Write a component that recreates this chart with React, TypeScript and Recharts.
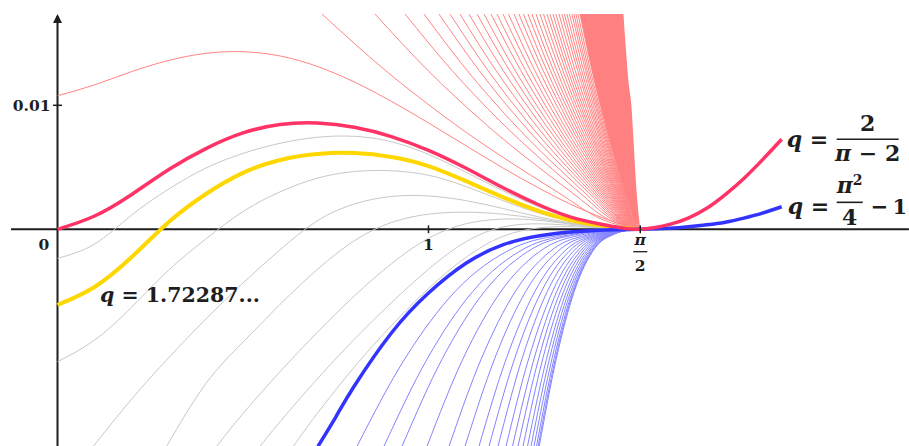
import {
  ComposedChart,
  Line,
  Area,
  XAxis,
  YAxis,
  ReferenceLine,
  ReferenceDot,
} from "recharts";

// every curve of the family meets the axis at x = pi/2
const HALF_PI = 1.5708;

// common x samples for the curves that span the whole interval
const gridX = [0, 0.1, 0.2, 0.3, 0.4, 0.5, 0.6, 0.7, 0.8, 0.9, 1.0, 1.1, 1.2, 1.3, 1.4, 1.5, HALF_PI];

// q = 2/(pi-2)
const redMainY = [0, 0.00107, 0.00281, 0.00482, 0.00651, 0.00777, 0.00845, 0.00857, 0.00823, 0.00748, 0.00636, 0.00494, 0.00337, 0.00194, 0.00084, 0.00022, 0];
// q = 1.72287...
const yellowY = [-0.0061, -0.00465, -0.00224, 0.00059, 0.00285, 0.00455, 0.00559, 0.00607, 0.00615, 0.00583, 0.0051, 0.0039, 0.0026, 0.00145, 0.00062, 0.00016, 0];
// first thin red curve (the only one fully visible)
const redFirstY = [0.01077, 0.01165, 0.01272, 0.01362, 0.01419, 0.01432, 0.01398, 0.01314, 0.01188, 0.01032, 0.00858, 0.00676, 0.00496, 0.00328, 0.00178, 0.0006, 0];
// the two grey curves that start on the y axis
const greyAY = [-0.00234, -0.00119, 0.00115, 0.00325, 0.00494, 0.00612, 0.00694, 0.00742, 0.0075, 0.00706, 0.00604, 0.00462, 0.00312, 0.00178, 0.00076, 0.00019, 0];
const greyBY = [-0.01068, -0.00893, -0.00627, -0.00328, -0.00078, 0.00143, 0.00302, 0.00412, 0.00466, 0.00472, 0.00436, 0.00346, 0.00232, 0.00128, 0.00055, 0.00014, 0];

// grey curves coming in from the bottom edge
const greyRest = [
  [[0.0965, -0.0175], [0.2, -0.01369], [0.3, -0.01034], [0.4, -0.00723], [0.5, -0.00433], [0.6, -0.00165], [0.7, 0.00068], [0.8, 0.00204], [0.9, 0.00265], [1.0, 0.00269], [1.1, 0.00232], [1.2, 0.00168], [1.3, 0.00098], [1.4, 0.00044], [1.5, 0.00011], [HALF_PI, 0]],
  [[0.294, -0.0175], [0.4, -0.01244], [0.5, -0.0091], [0.6, -0.00605], [0.7, -0.00325], [0.8, -0.00092], [0.9, 0.00055], [1.0, 0.00122], [1.1, 0.00138], [1.2, 0.00122], [1.3, 0.00084], [1.4, 0.0004], [1.5, 0.0001], [HALF_PI, 0]],
  [[0.429, -0.0175], [0.5, -0.01486], [0.6, -0.01148], [0.7, -0.00832], [0.8, -0.00538], [0.9, -0.00278], [1.0, -0.00072], [1.1, 0.00044], [1.2, 0.00082], [1.3, 0.00072], [1.4, 0.00035], [1.5, 0.00008], [HALF_PI, 0]],
  [[0.546, -0.0175], [0.6, -0.01551], [0.7, -0.01207], [0.8, -0.00887], [0.9, -0.00592], [1.0, -0.00322], [1.1, -0.00102], [1.2, 0.00018], [1.3, 0.00044], [1.4, 0.00028], [1.5, 0.00007], [HALF_PI, 0]],
  [[0.636, -0.0175], [0.7, -0.01486], [0.8, -0.01111], [0.9, -0.00777], [1.0, -0.00478], [1.1, -0.00228], [1.2, -0.00058], [1.3, 0.00012], [1.4, 0.0002], [1.5, 0.00005], [HALF_PI, 0]],
];

// q = pi^2/4 - 1
const blueMain = [[0.702, -0.0175], [0.75, -0.01514], [0.8, -0.01264], [0.9, -0.00836], [1.0, -0.00514], [1.1, -0.00276], [1.2, -0.00126], [1.3, -0.00052], [1.4, -0.00018], [1.5, -0.00004], [HALF_PI, 0]];

// the two highlighted curves continue past pi/2
const tailX = [1.65, 1.7, 1.75, 1.8, 1.85, 1.9, 1.952];
const redTailY = [0.0004, 0.0009, 0.0017, 0.0028, 0.0041, 0.0056, 0.00726];
const blueTailY = [0.00008, 0.0002, 0.00036, 0.00057, 0.0009, 0.0013, 0.00182];

// thin blue fan: x where each curve crosses these levels
const blueLevels = [-0.0175, -0.0104, -0.005, -0.0015, -0.0004, -0.0001];
const blueFanX = [
  [0.8073, 0.9371, 1.0722, 1.2295, 1.3715, 1.4639],
  [0.88, 0.9974, 1.1197, 1.262, 1.3905, 1.4741],
  [0.9286, 1.0378, 1.1514, 1.2837, 1.4032, 1.4809],
  [0.996, 1.0937, 1.1955, 1.3139, 1.4208, 1.4903],
  [1.0553, 1.1429, 1.2342, 1.3404, 1.4363, 1.4986],
  [1.0984, 1.1787, 1.2623, 1.3596, 1.4475, 1.5047],
  [1.1361, 1.21, 1.2869, 1.3765, 1.4573, 1.5099],
  [1.1631, 1.2324, 1.3046, 1.3886, 1.4644, 1.5137],
  [1.1873, 1.2525, 1.3204, 1.3994, 1.4707, 1.5171],
  [1.2089, 1.2704, 1.3345, 1.409, 1.4763, 1.5201],
  [1.2264, 1.2849, 1.3459, 1.4169, 1.4809, 1.5226],
  [1.2412, 1.2972, 1.3556, 1.4235, 1.4848, 1.5247],
  [1.2547, 1.3084, 1.3644, 1.4295, 1.4883, 1.5265],
  [1.2668, 1.3185, 1.3723, 1.4349, 1.4915, 1.5282],
  [1.2763, 1.3264, 1.3785, 1.4392, 1.4939, 1.5296],
  [1.2844, 1.3331, 1.3838, 1.4428, 1.496, 1.5307],
  [1.2911, 1.3386, 1.3882, 1.4458, 1.4978, 1.5316],
  [1.2955, 1.3422, 1.391, 1.4476, 1.4988, 1.5322],
  [1.2985, 1.3448, 1.393, 1.4491, 1.4998, 1.5327],
];

// thin red fan: x where each curve crosses these levels (first level = top edge)
const redLevels = [0.01736, 0.0128, 0.0088, 0.003, 0.0008];
const redFanX = [
  [0.7128, 0.8844, 1.056, 1.3477, 1.4678],
  [0.8558, 0.9988, 1.1418, 1.3849, 1.485],
  [0.9368, 1.0636, 1.1904, 1.406, 1.4947],
  [0.9878, 1.1044, 1.221, 1.4192, 1.5008],
  [1.0282, 1.1367, 1.2452, 1.4297, 1.5057],
  [1.0581, 1.1606, 1.2632, 1.4375, 1.5093],
  [1.0848, 1.182, 1.2792, 1.4444, 1.5125],
  [1.1091, 1.2014, 1.2938, 1.4508, 1.5154],
  [1.1307, 1.2187, 1.3067, 1.4564, 1.518],
  [1.1495, 1.2338, 1.318, 1.4613, 1.5202],
  [1.1684, 1.2489, 1.3294, 1.4662, 1.5225],
  [1.1845, 1.2618, 1.339, 1.4704, 1.5244],
  [1.2007, 1.2747, 1.3487, 1.4746, 1.5264],
  [1.2155, 1.2866, 1.3576, 1.4784, 1.5282],
  [1.2304, 1.2985, 1.3666, 1.4823, 1.53],
  [1.2438, 1.3092, 1.3746, 1.4858, 1.5316],
  [1.256, 1.319, 1.3819, 1.489, 1.533],
  [1.2681, 1.3286, 1.3892, 1.4921, 1.5345],
  [1.2789, 1.3373, 1.3957, 1.4949, 1.5358],
  [1.2897, 1.3459, 1.4021, 1.4977, 1.5371],
  [1.3004, 1.3545, 1.4086, 1.5005, 1.5384],
  [1.3099, 1.3621, 1.4143, 1.503, 1.5395],
  [1.3193, 1.3696, 1.4199, 1.5054, 1.5406],
  [1.3274, 1.3761, 1.4248, 1.5075, 1.5416],
  [1.3355, 1.3826, 1.4296, 1.5096, 1.5426],
  [1.3436, 1.389, 1.4345, 1.5117, 1.5435],
  [1.3517, 1.3955, 1.4393, 1.5138, 1.5445],
  [1.3598, 1.402, 1.4442, 1.5159, 1.5455],
  [1.3665, 1.4074, 1.4482, 1.5177, 1.5463],
  [1.3732, 1.4127, 1.4522, 1.5194, 1.5471],
  [1.38, 1.4182, 1.4563, 1.5212, 1.5479],
  [1.3867, 1.4235, 1.4603, 1.5229, 1.5487],
  [1.3921, 1.4278, 1.4636, 1.5243, 1.5494],
  [1.3975, 1.4322, 1.4668, 1.5257, 1.55],
  [1.4029, 1.4365, 1.4701, 1.5271, 1.5507],
  [1.4083, 1.4408, 1.4733, 1.5285, 1.5513],
];

// the part of the red fan where the curves merge into a solid band
const bandX = [1.4083, 1.4408, 1.4733, 1.525, 1.5285, 1.5386, 1.5477, 1.5513, 1.5612, HALF_PI];
const bandLow = [0.01736, 0.0128, 0.0088, 0.00337, 0.003, 0.00203, 0.00115, 0.0008, 0.00039, 0];
const bandHigh = [0.01736, 0.01736, 0.01736, 0.01736, 0.01599, 0.01204, 0.00962, 0.00784, 0.00293, 0];

const X_DOMAIN = [-0.15499, 2.29515];
const Y_DOMAIN = [-0.017476, 0.018492];
const Y_TOP = 0.01736;

type Pt = { x: number; y: number };
const zip = (xs: number[], ys: number[]): Pt[] => xs.map((x, i) => ({ x, y: ys[i] }));
const fromPairs = (pairs: number[][]): Pt[] => pairs.map(([x, y]) => ({ x, y }));
const fan = (xs: number[], levels: number[]): Pt[] => [...zip(xs, levels), { x: HALF_PI, y: 0 }];

const redMain = [...zip(gridX, redMainY), ...zip(tailX, redTailY)];
const blueMainPts = [...fromPairs(blueMain), ...zip(tailX, blueTailY)];
const greys = [zip(gridX, greyAY), zip(gridX, greyBY), ...greyRest.map(fromPairs)];
const bandRows = bandX.map((x, i) => ({ x, range: [bandLow[i], bandHigh[i]] }));

const INK = "#1e1e1e";
const FONT = "'DejaVu Serif', serif";

const smooth = {
  dataKey: "y",
  type: "natural" as const,
  dot: false,
  activeDot: false,
  isAnimationActive: false,
};
const fanLine = { ...smooth, type: "monotone" as const };

export default function App() {
  return (
    <div style={{ position: "absolute", left: 0, top: 0, width: 909, height: 446, background: "#fff" }}>
      <ComposedChart width={909} height={446} data={bandRows} margin={{ top: 0, right: 0, bottom: 0, left: 0 }}>
        <XAxis type="number" dataKey="x" domain={X_DOMAIN} allowDataOverflow hide />
        <YAxis type="number" domain={Y_DOMAIN} allowDataOverflow hide />

        <ReferenceLine segment={[{ x: -0.1253, y: 0 }, { x: 2.295, y: 0 }]} stroke={INK} strokeWidth={2} />
        <ReferenceLine segment={[{ x: 0, y: -0.01747 }, { x: 0, y: 0.0172 }]} stroke={INK} strokeWidth={2} />

        {greys.map((d, i) => (
          <Line key={`g${i}`} {...smooth} data={d} stroke="#c8c8c8" strokeWidth={1} />
        ))}
        {blueFanX.map((xs, i) => (
          <Line key={`b${i}`} {...fanLine} data={fan(xs, blueLevels)} stroke="#8484ff" strokeWidth={1} />
        ))}
        <Line {...smooth} data={zip(gridX, redFirstY)} stroke="#ff8484" strokeWidth={1} />
        {redFanX.map((xs, i) => (
          <Line key={`r${i}`} {...fanLine} data={fan(xs, redLevels)} stroke="#ff8484" strokeWidth={1} />
        ))}
        <Area dataKey="range" type="monotone" fill="#ff8080" fillOpacity={1} stroke="none" isAnimationActive={false} activeDot={false} />

        <Line {...smooth} data={zip(gridX, yellowY)} stroke="#ffd700" strokeWidth={4} />
        <Line {...smooth} data={blueMainPts} stroke="#3333ff" strokeWidth={3.5} />
        <Line {...smooth} data={redMain} stroke="#ff3366" strokeWidth={3.5} />

        {/* ticks */}
        <ReferenceLine segment={[{ x: 1, y: -0.00032 }, { x: 1, y: 0.00032 }]} stroke={INK} strokeWidth={1.5} />
        <ReferenceLine segment={[{ x: HALF_PI, y: -0.00032 }, { x: HALF_PI, y: 0.00032 }]} stroke={INK} strokeWidth={1.5} />
        <ReferenceLine segment={[{ x: -0.0121, y: 0.01 }, { x: 0.0121, y: 0.01 }]} stroke={INK} strokeWidth={1.5} />

        {/* arrow head of the y axis */}
        <ReferenceDot
          x={0}
          y={Y_TOP}
          shape={(p: any) => (
            <polygon points={`${p.cx},${p.cy} ${p.cx - 4.5},${p.cy + 9} ${p.cx + 4.5},${p.cy + 9}`} fill={INK} />
          )}
        />

        {/* tick labels */}
        <ReferenceDot
          x={0}
          y={0.01}
          shape={(p: any) => (
            <text x={p.cx - 7} y={p.cy + 6} textAnchor="end" fontFamily={FONT} fontWeight={700} fontSize={15.5} fill={INK}>
              0.01
            </text>
          )}
        />
        <ReferenceDot
          x={0}
          y={0}
          shape={(p: any) => (
            <text x={p.cx - 13.5} y={p.cy + 21} textAnchor="middle" fontFamily={FONT} fontWeight={700} fontSize={15.5} fill={INK}>
              0
            </text>
          )}
        />
        <ReferenceDot
          x={1}
          y={0}
          shape={(p: any) => (
            <text x={p.cx} y={p.cy + 21} textAnchor="middle" fontFamily={FONT} fontWeight={700} fontSize={15.5} fill={INK}>
              1
            </text>
          )}
        />
        <ReferenceDot
          x={HALF_PI}
          y={0}
          shape={(p: any) => (
            <g fontFamily={FONT} fontWeight={700} fontSize={15.5} fill={INK}>
              <text x={p.cx} y={p.cy + 16} textAnchor="middle" fontStyle="italic">π</text>
              <line x1={p.cx - 7} x2={p.cx + 7} y1={p.cy + 22.4} y2={p.cy + 22.4} stroke={INK} strokeWidth={1.3} />
              <text x={p.cx} y={p.cy + 42} textAnchor="middle">2</text>
            </g>
          )}
        />

        {/* curve labels */}
        <ReferenceDot
          x={0.1146}
          y={-0.0059}
          shape={(p: any) => (
            <text x={p.cx} y={p.cy} fontFamily={FONT} fontWeight={700} fontSize={20.5} fill={INK}>
              <tspan fontStyle="italic">q</tspan>
              <tspan> = 1.72287...</tspan>
            </text>
          )}
        />
        <ReferenceDot
          x={1.952}
          y={0.00726}
          shape={(p: any) => (
            <g fontFamily={FONT} fontWeight={700} fontSize={22} fill={INK}>
              <text x={p.cx + 5} y={p.cy + 8}>
                <tspan fontStyle="italic">q</tspan>
                <tspan> =</tspan>
              </text>
              <text x={p.cx + 86} y={p.cy - 8} textAnchor="middle">2</text>
              <line x1={p.cx + 55} x2={p.cx + 117} y1={p.cy} y2={p.cy} stroke={INK} strokeWidth={1.6} />
              <text x={p.cx + 86} y={p.cy + 22} textAnchor="middle">
                <tspan fontStyle="italic">π</tspan>
                <tspan> − 2</tspan>
              </text>
            </g>
          )}
        />
        <ReferenceDot
          x={1.952}
          y={0.00182}
          shape={(p: any) => (
            <g fontFamily={FONT} fontWeight={700} fontSize={22} fill={INK}>
              <text x={p.cx + 6} y={p.cy + 7}>
                <tspan fontStyle="italic">q</tspan>
                <tspan> =</tspan>
              </text>
              <text x={p.cx + 68} y={p.cy - 14} textAnchor="middle">
                <tspan fontStyle="italic">π</tspan>
                <tspan dy={-8} fontSize={14}>2</tspan>
              </text>
              <line x1={p.cx + 55} x2={p.cx + 81} y1={p.cy - 4.4} y2={p.cy - 4.4} stroke={INK} strokeWidth={1.6} />
              <text x={p.cx + 68} y={p.cy + 18} textAnchor="middle">4</text>
              <text x={p.cx + 89} y={p.cy + 7} fontSize={21}>−{"\u2009"}1</text>
            </g>
          )}
        />
      </ComposedChart>
    </div>
  );
}
